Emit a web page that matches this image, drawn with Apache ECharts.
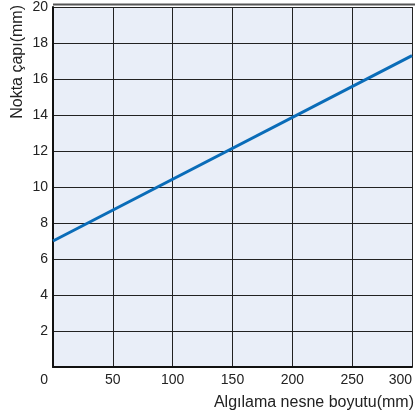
<!DOCTYPE html>
<html>
<head>
<meta charset="utf-8">
<script src="https://cdn.jsdelivr.net/npm/echarts@6/dist/echarts.min.js"></script>
<style>
  html, body { margin: 0; padding: 0; background: #fff; overflow: hidden; }
  #chart { width: 415px; height: 417px; }
</style>
</head>
<body>
<div id="chart"></div>
<script>
// object size (mm) vs spot diameter (mm)
const sizes = [0, 300];
const spots = [7, 17.3];

const xName = 'Algılama nesne boyutu(mm)';
const yName = 'Nokta çapı(mm)';

const font = '"Liberation Sans", Arial, sans-serif';

const chart = echarts.init(document.getElementById('chart'));

let points = sizes.map((s, i) => [s, spots[i]]);

const option = {
  animation: false,
  grid: {
    left: 53,
    right: 0,
    top: 5,
    bottom: 50,
    show: true,
    backgroundColor: '#e9eef8',
    borderWidth: 0
  },
  xAxis: {
    type: 'value',
    min: 0,
    max: 300,
    interval: 50,
    axisLine: { show: true, lineStyle: { color: '#111', width: 2 } },
    axisTick: { show: false },
    splitLine: { show: true, lineStyle: { color: '#222', width: 1 } },
    axisLabel: {
      color: '#222',
      fontSize: 14,
      fontFamily: font,
      margin: 6,
      alignMinLabel: 'right',
      alignMaxLabel: 'right',
      formatter: (v) => v === 0 ? '{z|0}' : String(v),
      rich: { z: { fontSize: 14, fontFamily: font, color: '#222', padding: [0, 5, 0, 0] } }
    }
  },
  yAxis: {
    type: 'value',
    min: 0,
    max: 20,
    interval: 2,
    axisLine: { show: true, lineStyle: { color: '#111', width: 2 } },
    axisTick: { show: false },
    splitLine: { show: true, lineStyle: { color: '#222', width: 1 } },
    axisLabel: {
      color: '#222',
      fontSize: 14,
      fontFamily: font,
      margin: 5,
      showMinLabel: false
    }
  },
  graphic: [
    {
      type: 'line',
      shape: { x1: 53, y1: 4.5, x2: 415, y2: 4.5 },
      style: { stroke: '#555', lineWidth: 2 }
    },
    {
      type: 'text',
      right: 1,
      top: 395,
      style: { text: xName, fill: '#222', font: '16px ' + font }
    },
    {
      type: 'text',
      x: 18,
      y: 5,
      rotation: Math.PI / 2,
      style: { text: yName, fill: '#222', font: '16px ' + font, align: 'right', verticalAlign: 'middle' },
      originX: 0,
      originY: 0
    }
  ],
  series: [
    {
      type: 'line',
      data: points,
      symbol: 'none',
      lineStyle: { color: '#0a6cb8', width: 3 }
    }
  ]
};

chart.setOption(option);
</script>
</body>
</html>
